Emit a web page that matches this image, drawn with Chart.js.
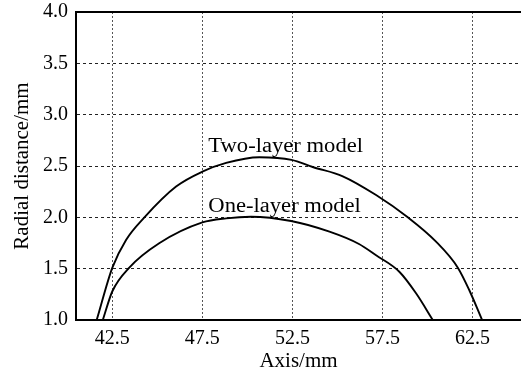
<!DOCTYPE html>
<html>
<head>
<meta charset="utf-8">
<script src="https://cdn.jsdelivr.net/npm/chart.js@4/dist/chart.umd.min.js"></script>
<style>
  html, body { margin: 0; padding: 0; background: #fff; }
</style>
</head>
<body>
<canvas id="radialChart" width="521" height="375"></canvas>
<script>
// Axial position (mm) and radial distance (mm) for each model
const axisTwo = [41.63, 42.5, 43.26, 44.28, 46.04, 47.5, 48.82, 50.67, 52.45, 53.63, 55.3, 57.15, 58.91, 60.48, 61.69, 62.33, 63.04];
const radialTwo = [1.0, 1.51, 1.78, 2.0, 2.3, 2.445, 2.53, 2.585, 2.56, 2.49, 2.4, 2.217, 2.0, 1.763, 1.51, 1.29, 1.0];
const axisOne = [41.97, 42.5, 43.44, 45.1, 47.5, 48.82, 50.2, 52.43, 54.56, 56.2, 57.15, 58.44, 59.37, 60.3];
const radialOne = [1.0, 1.28, 1.51, 1.747, 1.95, 1.99, 2.006, 1.964, 1.86, 1.74, 1.63, 1.47, 1.26, 1.0];

const seriesNames = ['Two-layer model', 'One-layer model'];
const xTicks = [42.5, 47.5, 52.5, 57.5, 62.5];
const yTicks = [1.0, 1.5, 2.0, 2.5, 3.0, 3.5, 4.0];

// where each curve's name is written (data units, left end of baseline)
const labelAnchors = [{ x: 47.83, y: 2.639 }, { x: 47.83, y: 2.055 }];

const font = "'Liberation Serif', 'Times New Roman', serif";

function toPoints(xs, ys) {
    return xs.map((x, i) => ({ x: x, y: ys[i] }));
}

// writes the series names inside the plot, slightly widened
const curveLabels = {
    id: 'curveLabels',
    afterDatasetsDraw(chart) {
        const { ctx, scales } = chart;
        seriesNames.forEach((name, i) => {
            const px = scales.x.getPixelForValue(labelAnchors[i].x);
            const py = scales.y.getPixelForValue(labelAnchors[i].y);
            ctx.save();
            ctx.translate(px, py);
            ctx.scale(1.13, 1);
            ctx.font = '20px ' + font;
            ctx.fillStyle = '#000';
            ctx.textAlign = 'left';
            ctx.textBaseline = 'alphabetic';
            ctx.fillText(name, 0, 0);
            ctx.restore();
        });
    }
};

const lineStyle = {
    borderColor: '#000',
    borderWidth: 1.9,
    pointRadius: 0,
    fill: false,
    cubicInterpolationMode: 'monotone'
};

new Chart(document.getElementById('radialChart'), {
    type: 'line',
    data: {
        datasets: [
            Object.assign({ label: seriesNames[0], data: toPoints(axisTwo, radialTwo) }, lineStyle),
            Object.assign({ label: seriesNames[1], data: toPoints(axisOne, radialOne) }, lineStyle)
        ]
    },
    options: {
        responsive: false,
        animation: false,
        devicePixelRatio: 1,
        layout: { padding: 0 },
        plugins: {
            legend: { display: false },
            tooltip: { enabled: false }
        },
        scales: {
            x: {
                type: 'linear',
                min: 40.48,
                max: 65.2,
                afterBuildTicks(scale) { scale.ticks = xTicks.map(v => ({ value: v })); },
                afterFit(scale) {
                    scale.height = 55;
                    scale.paddingLeft = 0;
                    scale.paddingRight = 0;
                },
                ticks: {
                    color: '#000',
                    font: { family: font, size: 20 },
                    padding: 7,
                    maxRotation: 0,
                    autoSkip: false,
                    callback: v => v.toFixed(1)
                },
                grid: { color: '#555', lineWidth: 1, drawTicks: false },
                border: { color: '#000', width: 2, dash: [2, 2] },
                title: {
                    display: true,
                    text: 'Axis/mm',
                    color: '#000',
                    font: { family: font, size: 21 },
                    padding: { top: 0, bottom: 1 }
                }
            },
            top: {
                type: 'linear',
                position: 'top',
                min: 40.48,
                max: 65.2,
                afterFit(scale) { scale.height = 12; },
                ticks: { display: false },
                grid: { display: false, drawTicks: false },
                border: { color: '#000', width: 2 }
            },
            y: {
                min: 1.0,
                max: 4.0,
                afterBuildTicks(scale) { scale.ticks = yTicks.map(v => ({ value: v })); },
                afterFit(scale) {
                    scale.width = 76;
                    scale.paddingTop = 0;
                    scale.paddingBottom = 0;
                },
                ticks: {
                    color: '#000',
                    font: { family: font, size: 20, lineHeight: 1 },
                    padding: 8,
                    autoSkip: false,
                    callback: v => v.toFixed(1)
                },
                grid: { color: '#222', lineWidth: 1, drawTicks: false },
                border: { color: '#000', width: 2, dash: [3, 3] },
                title: {
                    display: true,
                    text: 'Radial distance/mm',
                    color: '#000',
                    font: { family: font, size: 21 },
                    padding: { top: 10, bottom: 0 }
                }
            }
        }
    },
    plugins: [curveLabels]
});
</script>
</body>
</html>
